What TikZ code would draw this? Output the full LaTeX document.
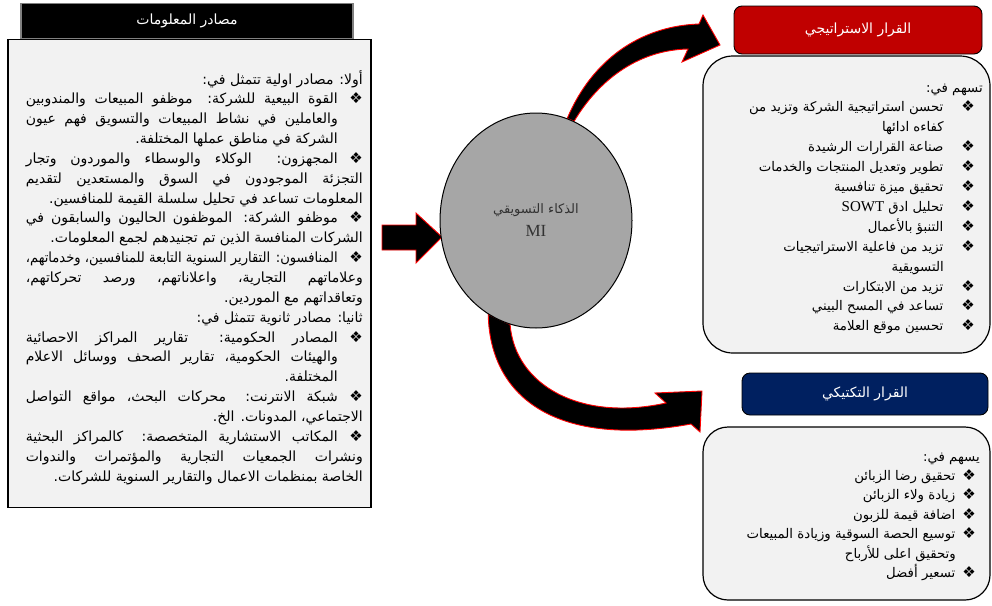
\documentclass[tikz,border=0pt]{standalone}
\usepackage{fontspec}
\usepackage{graphicx}
\TeXXeTstate=1
\newfontfamily\arabicfont[Script=Arabic]{DejaVu Sans}
\newfontfamily\latinserif{Liberation Serif}
\usetikzlibrary{positioning}
\usetikzlibrary{shapes.geometric}
\usetikzlibrary{backgrounds}
\definecolor{panelgray}{RGB}{242,242,242}
\definecolor{stratred}{RGB}{192,0,0}
\definecolor{tactnavy}{RGB}{0,32,96}
\definecolor{migray}{RGB}{166,166,166}
\definecolor{mitext}{RGB}{50,50,50}
\tikzstyle{srchead} = [draw=gray, line width=1.5pt, fill=black, text=white, minimum width=332pt, minimum height=35pt]
\tikzstyle{panel} = [draw, line width=1.2pt, fill=panelgray]
\tikzstyle{decision} = [draw, line width=0.9pt, rounded corners=8pt, text=white]
\tikzstyle{headfont} = [font=\arabicfont\fontsize{14}{16}\selectfont]
\tikzstyle{bodytext} = [inner sep=0pt, font=\arabicfont\fontsize{14}{16}\selectfont]
\tikzstyle{sidetext} = [inner sep=0pt, font=\arabicfont\fontsize{13.3}{16}\selectfont]
\tikzstyle{bigarrow} = [fill=black, draw=red, line width=0.9pt]

% one line of text, spread (or squeezed) to a given width
\newsavebox\linebox
\newcommand\fitline[2]{\sbox\linebox{#2}%
  \ifdim\wd\linebox>#1\relax\resizebox{#1}{\height}{\usebox\linebox}%
  \else\hbox to #1{#2}\fi}
\newcommand\bul{{\arabicfont\fontsize{15}{15}\selectfont ❖}}
% left panel lines
\newcommand\lnhead[1]{\hbox to 337pt{\hfil#1}}
\newcommand\lnfull[1]{\hbox to 337pt{\fitline{337pt}{#1}}}
\newcommand\lnbul[1]{\hbox to 337pt{\fitline{312pt}{#1}\hfil\bul}}
\newcommand\lnind[1]{\hbox to 337pt{\fitline{312pt}{#1}\hfil}}
\newcommand\lnindr[1]{\hbox to 337pt{\hbox to 312pt{\hfil#1}\hfil}}
% right panel lines
\newdimen\itemgap \newdimen\bulgap \newdimen\contgap
\newcommand\rhead[1]{\hbox to 250pt{\hfil#1}}
\newcommand\ritem[1]{\hbox to 250pt{\hfil#1\hskip\itemgap\bul\hskip\bulgap}}
\newcommand\rcont[1]{\hbox to 250pt{\hfil#1\hskip\contgap}}

\begin{document}
\begin{tikzpicture}[x=1pt,y=-1pt]
    \useasboundingbox (0,0) rectangle (992,605);

    % sources of information
    \node [srchead, headfont] (srchead) at (187,21) {\beginR مصادر المعلومات\endR};
    \node [panel, line width=1.6pt, minimum width=363pt, minimum height=468pt] (srcbox) at (189.5,273.5) {};
    \node [bodytext, anchor=base east] (srctext) at (363,84) {\vtop{\baselineskip=19.85pt
        \lnhead{\beginR أولا: مصادر اولية تتمثل في:\endR}
        \lnbul{\beginR القوة البيعية للشركة: موظفو المبيعات والمندوبين\endR}
        \lnind{\beginR والعاملين في نشاط المبيعات والتسويق فهم عيون\endR}
        \lnindr{\beginR الشركة في مناطق عملها المختلفة.\endR}
        \lnbul{\beginR المجهزون: الوكلاء والوسطاء والموردون وتجار\endR}
        \lnfull{\beginR التجزئة الموجودون في السوق والمستعدين لتقديم\endR}
        \lnhead{\beginR المعلومات تساعد في تحليل سلسلة القيمة للمنافسين.\endR}
        \lnbul{\beginR موظفو الشركة: الموظفون الحاليون والسابقون في\endR}
        \lnhead{\beginR الشركات المنافسة الذين تم تجنيدهم لجمع المعلومات.\endR}
        \lnbul{\beginR المنافسون: التقارير السنوية التابعة للمنافسين، وخدماتهم،\endR}
        \lnfull{\beginR وعلاماتهم التجارية، واعلاناتهم، ورصد تحركاتهم،\endR}
        \lnhead{\beginR وتعاقداتهم مع الموردين.\endR}
        \lnhead{\beginR ثانيا: مصادر ثانوية تتمثل في:\endR}
        \lnbul{\beginR المصادر الحكومية: تقارير المراكز الاحصائية\endR}
        \lnind{\beginR والهيئات الحكومية، تقارير الصحف ووسائل الاعلام\endR}
        \lnindr{\beginR المختلفة.\endR}
        \lnbul{\beginR شبكة الانترنت: محركات البحث، مواقع التواصل\endR}
        \lnhead{\beginR الاجتماعي، المدونات. الخ.\endR}
        \lnbul{\beginR المكاتب الاستشارية المتخصصة: كالمراكز البحثية\endR}
        \lnfull{\beginR ونشرات الجمعيات التجارية والمؤتمرات والندوات\endR}
        \lnhead{\beginR الخاصة بمنظمات الاعمال والتقارير السنوية للشركات.\endR}}};

    % marketing intelligence
    \node [ellipse, draw, line width=1pt, fill=migray, minimum width=192pt, minimum height=215pt,
           align=center, text=mitext, font=\arabicfont\fontsize{13}{23}\selectfont] (mi) at (536,220.5)
          {\beginR الذكاء التسويقي\endR\\{\latinserif\fontsize{17}{23}\selectfont MI}};

    % strategic decision
    \node [decision, fill=stratred, minimum width=248pt, minimum height=48pt, headfont] (strathead) at (858,30) {\beginR القرار الاستراتيجي\endR};
    \node [panel, rounded corners=30pt, minimum width=287pt, minimum height=297pt] (stratbox) at (846.5,204.5) {};
    \node [sidetext, anchor=base east] (strattext) at (983,92) {\vtop{\baselineskip=19.9pt
        \itemgap=18pt \bulgap=8pt \contgap=39pt
        \rhead{\beginR تسهم في:\endR}
        \ritem{\beginR تحسن استراتيجية الشركة وتزيد من\endR}
        \rcont{\beginR كفاءه ادائها\endR}
        \ritem{\beginR صناعة القرارات الرشيدة\endR}
        \ritem{\beginR تطوير وتعديل المنتجات والخدمات\endR}
        \ritem{\beginR تحقيق ميزة تنافسية\endR}
        \ritem{\beginR تحليل ادق \beginL{\latinserif\fontsize{15}{16}\selectfont SOWT}\endL\endR}
        \ritem{\beginR التنبؤ بالأعمال\endR}
        \ritem{\beginR تزيد من فاعلية الاستراتيجيات\endR}
        \rcont{\beginR التسويقية\endR}
        \ritem{\beginR تزيد من الابتكارات\endR}
        \ritem{\beginR تساعد في المسح البيني\endR}
        \ritem{\beginR تحسين موقع العلامة\endR}}};

    % tactical decision
    \node [decision, fill=tactnavy, minimum width=246pt, minimum height=42pt, headfont] (tacthead) at (865,394) {\beginR القرار التكتيكي\endR};
    \node [panel, rounded corners=25pt, minimum width=287pt, minimum height=173pt] (tactbox) at (846.5,513.5) {};
    \node [sidetext, anchor=base east] (tacttext) at (980,461) {\vtop{\baselineskip=19.4pt
        \itemgap=7pt \bulgap=4pt \contgap=24pt
        \rhead{\beginR يسهم في:\endR}
        \ritem{\beginR تحقيق رضا الزبائن\endR}
        \ritem{\beginR زيادة ولاء الزبائن\endR}
        \ritem{\beginR اضافة قيمة للزبون\endR}
        \ritem{\beginR توسيع الحصة السوقية وزيادة المبيعات\endR}
        \rcont{\beginR وتحقيق اعلى للأرباح\endR}
        \ritem{\beginR تسعير أفضل\endR}}};

    % block arrows
    \begin{pgfonlayer}{background}
    \draw [bigarrow] (382,225) -- (416,225) -- (416,213) -- (442,237) -- (416,263) -- (416,250) -- (382,250) -- cycle;
    \draw [bigarrow] (mi.73) .. controls (592,60) and (640,26) .. (699,24) -- (703,15) -- (720,45) -- (682,62)
        -- (688,49) .. controls (640,50) and (600,78) .. (mi.69) -- cycle;
    \draw [bigarrow] (mi.243) .. controls (490,400) and (560,448) .. (691,424) -- (700,432) -- (702,391) -- (655,393)
        -- (666,403) .. controls (580,422) and (515,385) .. (mi.256) -- cycle;
    \end{pgfonlayer}
\end{tikzpicture}
\end{document}
